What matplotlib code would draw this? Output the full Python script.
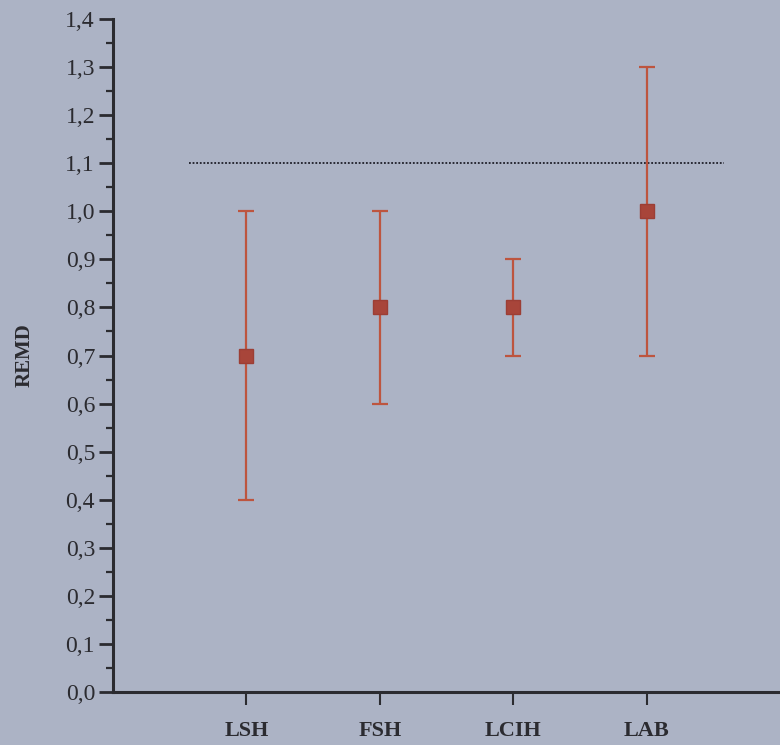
import matplotlib
matplotlib.use("Agg")
import matplotlib.pyplot as plt
from matplotlib.ticker import MultipleLocator, FuncFormatter

categories = ["LSH", "FSH", "LCIH", "LAB"]
means = [0.70, 0.80, 0.80, 1.00]
lower = [0.40, 0.60, 0.70, 0.70]
upper = [1.00, 1.00, 0.90, 1.30]
ref_value = 1.1
ylabel = "REMD"

bg = "#acb3c5"
red = "#bd553f"
ink = "#2b2b30"

plt.rcParams['font.family'] = ['Liberation Serif', 'DejaVu Serif']

fig = plt.figure(figsize=(7.8, 7.45), dpi=100, facecolor=bg)
ax = fig.add_axes([0.145, 0.0711, 0.855, 0.9034], facecolor=bg)

x = list(range(1, len(categories) + 1))
yerr = [[m - l for m, l in zip(means, lower)], [u - m for m, u in zip(means, upper)]]
ax.errorbar(x, means, yerr=yerr, fmt='none', ecolor=red, elinewidth=1.6,
            capsize=6, capthick=1.6, zorder=3)
ax.plot(x, means, linestyle='none', marker='s', markersize=10.5,
        color="#a8453a", markeredgecolor="#9c3e35", zorder=4)

ax.plot([0.57, 4.58], [ref_value, ref_value], linestyle=(0, (1, 1)),
        color="#1e1e28", linewidth=1.3, zorder=2)

ax.set_xlim(0, 5)
ax.set_ylim(0, 1.4)
ax.set_xticks(x)
ax.set_xticklabels(categories, fontsize=16, fontweight='bold', color=ink)
ax.yaxis.set_major_locator(MultipleLocator(0.1))
ax.yaxis.set_minor_locator(MultipleLocator(0.05))
ax.yaxis.set_major_formatter(FuncFormatter(lambda v, p: f"{v:.1f}".replace('.', ',')))
ax.tick_params(axis='y', which='major', length=10, width=2, labelsize=17,
               color=ink, labelcolor=ink, pad=3)
ax.tick_params(axis='y', which='minor', length=5, width=1.6, color=ink)
ax.tick_params(axis='x', which='major', length=9, width=1.5, direction='out',
               color=ink, pad=12)

for s in ['top', 'right']:
    ax.spines[s].set_visible(False)
for s in ['left', 'bottom']:
    ax.spines[s].set_linewidth(2.2)
    ax.spines[s].set_color(ink)

ax.set_ylabel(ylabel, fontsize=15, fontweight='bold', color=ink, labelpad=22)

fig.savefig("out.png", dpi=100, facecolor=bg)
